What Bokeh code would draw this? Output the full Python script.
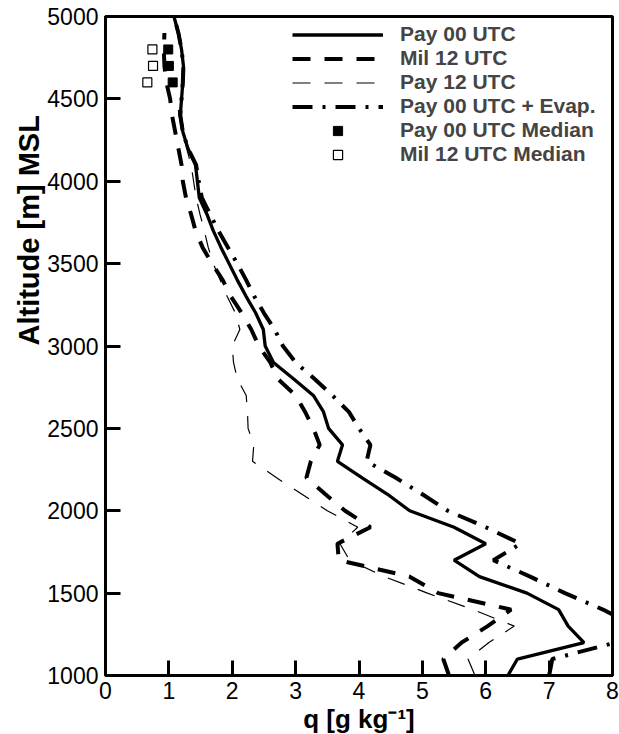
from bokeh.plotting import figure
from bokeh.models import Range1d, FixedTicker, Legend, LegendItem, Title
from bokeh.embed import file_html
from bokeh.resources import INLINE

# Specific humidity profiles (q in g/kg) against altitude (m MSL)
alt_pay00 = [1000, 1100, 1200, 1300, 1400, 1500, 1600, 1700, 1800, 1900,
             2000, 2100, 2200, 2300, 2400, 2500, 2600, 2700, 2800, 2900,
             3000, 3100, 3200, 3300, 3400, 3500, 3600, 3700, 3800, 3900,
             4000, 4100, 4200, 4300, 4400, 4500, 4600, 4700, 4800, 4900, 5000]
q_pay00 = [6.35, 6.50, 7.55, 7.30, 7.15, 6.65, 5.90, 5.50, 6.00, 5.50,
           4.80, 4.45, 4.05, 3.66, 3.74, 3.52, 3.44, 3.28, 2.97, 2.65,
           2.52, 2.49, 2.37, 2.22, 2.08, 1.95, 1.82, 1.70, 1.60, 1.48,
           1.45, 1.42, 1.30, 1.22, 1.18, 1.20, 1.22, 1.23, 1.20, 1.15, 1.08]

alt_mil12 = [1000, 1100, 1200, 1300, 1400, 1500, 1600, 1700, 1800, 1900,
             2000, 2100, 2200, 2300, 2400, 2500, 2600, 2700, 2800, 2900,
             3000, 3100, 3200, 3300, 3400, 3500, 3600, 3700, 3800, 3900,
             4000, 4100, 4200, 4300, 4400, 4500, 4600, 4700, 4800, 4900]
q_mil12 = [5.42, 5.33, 5.62, 6.03, 6.40, 5.25, 4.80, 3.68, 3.66, 4.18,
           3.78, 3.47, 3.17, 3.24, 3.38, 3.28, 3.15, 3.00, 2.72, 2.60,
           2.42, 2.30, 2.15, 1.98, 1.85, 1.68, 1.53, 1.42, 1.35, 1.27,
           1.22, 1.20, 1.15, 1.10, 1.05, 1.02, 0.96, 0.93, 0.92, 0.93]

alt_pay12 = [1000, 1100, 1200, 1300, 1400, 1500, 1600, 1700, 1800, 1900,
             2000, 2100, 2200, 2300, 2400, 2500, 2600, 2700, 2800, 2900,
             3000, 3100, 3200, 3300, 3400, 3500, 3600, 3700, 3800, 3900,
             4000, 4100, 4200, 4300, 4400, 4500]
q_pay12 = [5.83, 5.72, 6.05, 6.45, 5.80, 5.08, 4.40, 3.85, 3.70, 3.98,
           3.50, 3.10, 2.70, 2.32, 2.34, 2.25, 2.24, 2.22, 2.08, 2.02,
           2.00, 2.12, 2.05, 1.92, 1.81, 1.70, 1.62, 1.56, 1.49, 1.43,
           1.39, 1.35, 1.28, 1.22, 1.16, 1.13]

alt_evap = [1000, 1100, 1200, 1300, 1400, 1500, 1600, 1700, 1800, 1900,
            2000, 2100, 2200, 2300, 2400, 2500, 2600, 2700, 2800, 2900,
            3000, 3100, 3200, 3300, 3400, 3500, 3600, 3700, 3800, 3900,
            4000, 4100, 4200, 4300, 4400, 4500, 4600, 4700, 4800, 4900, 5000]
q_evap = [7.00, 7.05, 8.05, 8.35, 7.85, 7.25, 6.70, 6.12, 6.55, 6.00,
          5.40, 5.00, 4.58, 4.12, 4.18, 4.00, 3.84, 3.58, 3.30, 3.00,
          2.80, 2.67, 2.50, 2.35, 2.22, 2.08, 1.93, 1.78, 1.65, 1.52,
          1.47, 1.43, 1.30, 1.22, 1.18, 1.20, 1.22, 1.23, 1.20, 1.15, 1.08]

alt_median = [4800, 4700, 4600]
q_pay00_median = [0.99, 1.00, 1.06]
q_mil12_median = [0.74, 0.75, 0.66]

x_ticks = [0, 1, 2, 3, 4, 5, 6, 7, 8]
y_ticks = [1000, 1500, 2000, 2500, 3000, 3500, 4000, 4500, 5000]

FONT = "Liberation Sans"

p = figure(width=619, height=734,
           x_range=Range1d(0, 8), y_range=Range1d(1000, 5000),
           output_backend="svg", toolbar_location=None,
           min_border_left=105, min_border_right=7,
           min_border_top=16, min_border_bottom=59)

p.xgrid.visible = False
p.ygrid.visible = False
p.outline_line_color = "black"
p.outline_line_width = 3
p.outline_line_alpha = 1.0

p.xaxis.ticker = FixedTicker(ticks=x_ticks)
p.yaxis.ticker = FixedTicker(ticks=y_ticks)
for ax in (p.xaxis[0], p.yaxis[0]):
    ax.axis_line_width = 3
    ax.axis_line_color = "black"
    ax.major_tick_line_width = 3
    ax.major_tick_line_color = "black"
    ax.major_tick_in = 15
    ax.major_tick_out = 0
    ax.minor_tick_in = 0
    ax.minor_tick_out = 0
    ax.major_label_text_font = FONT
    ax.major_label_text_font_size = "23px"
    ax.major_label_text_color = "black"
p.yaxis.major_label_standoff = 7
p.xaxis.major_label_standoff = 6

r_pay00 = p.line(q_pay00, alt_pay00, line_color="black", line_width=3.3)
r_mil12 = p.line(q_mil12, alt_mil12, line_color="black", line_width=4,
                 line_dash="18 14")
r_pay12 = p.line(q_pay12, alt_pay12, line_color="black", line_width=1.2,
                 line_dash="18 14")
r_evap = p.line(q_evap, alt_evap, line_color="black", line_width=4,
                line_dash="20 10 3 10")
r_med00 = p.scatter(q_pay00_median, alt_median, marker="square", size=9,
                    fill_color="black", line_color="black", line_width=1)
r_med12 = p.scatter(q_mil12_median, alt_median, marker="square", size=9,
                    fill_color="white", line_color="black", line_width=1.2)

legend = Legend(items=[
    LegendItem(label="Pay 00 UTC", renderers=[r_pay00]),
    LegendItem(label="Mil 12 UTC", renderers=[r_mil12]),
    LegendItem(label="Pay 12 UTC", renderers=[r_pay12]),
    LegendItem(label="Pay 00 UTC + Evap.", renderers=[r_evap]),
    LegendItem(label="Pay 00 UTC Median", renderers=[r_med00]),
    LegendItem(label="Mil 12 UTC Median", renderers=[r_med12]),
])
legend.location = (187, 509)
legend.border_line_color = None
legend.background_fill_alpha = 0
legend.padding = 0
legend.margin = 0
legend.spacing = 0
legend.glyph_width = 91
legend.glyph_height = 23
legend.label_height = 23
legend.label_standoff = 17
legend.label_text_font = FONT
legend.label_text_font_size = "21px"
legend.label_text_font_style = "bold"
p.add_layout(legend)

# Axis titles as side titles so they sit outside the frame
p.add_layout(Title(text="Altitude [m] MSL", align="left", offset=330,
                   text_font=FONT, text_font_size="29px",
                   text_font_style="bold", text_color="black",
                   standoff=0), "left")
p.add_layout(Title(text="q [g kg\u207b\u00b9]", align="center",
                   text_font=FONT, text_font_size="26px",
                   text_font_style="bold", text_color="black",
                   standoff=0), "below")

open("out.html", "w").write(file_html(p, INLINE))
